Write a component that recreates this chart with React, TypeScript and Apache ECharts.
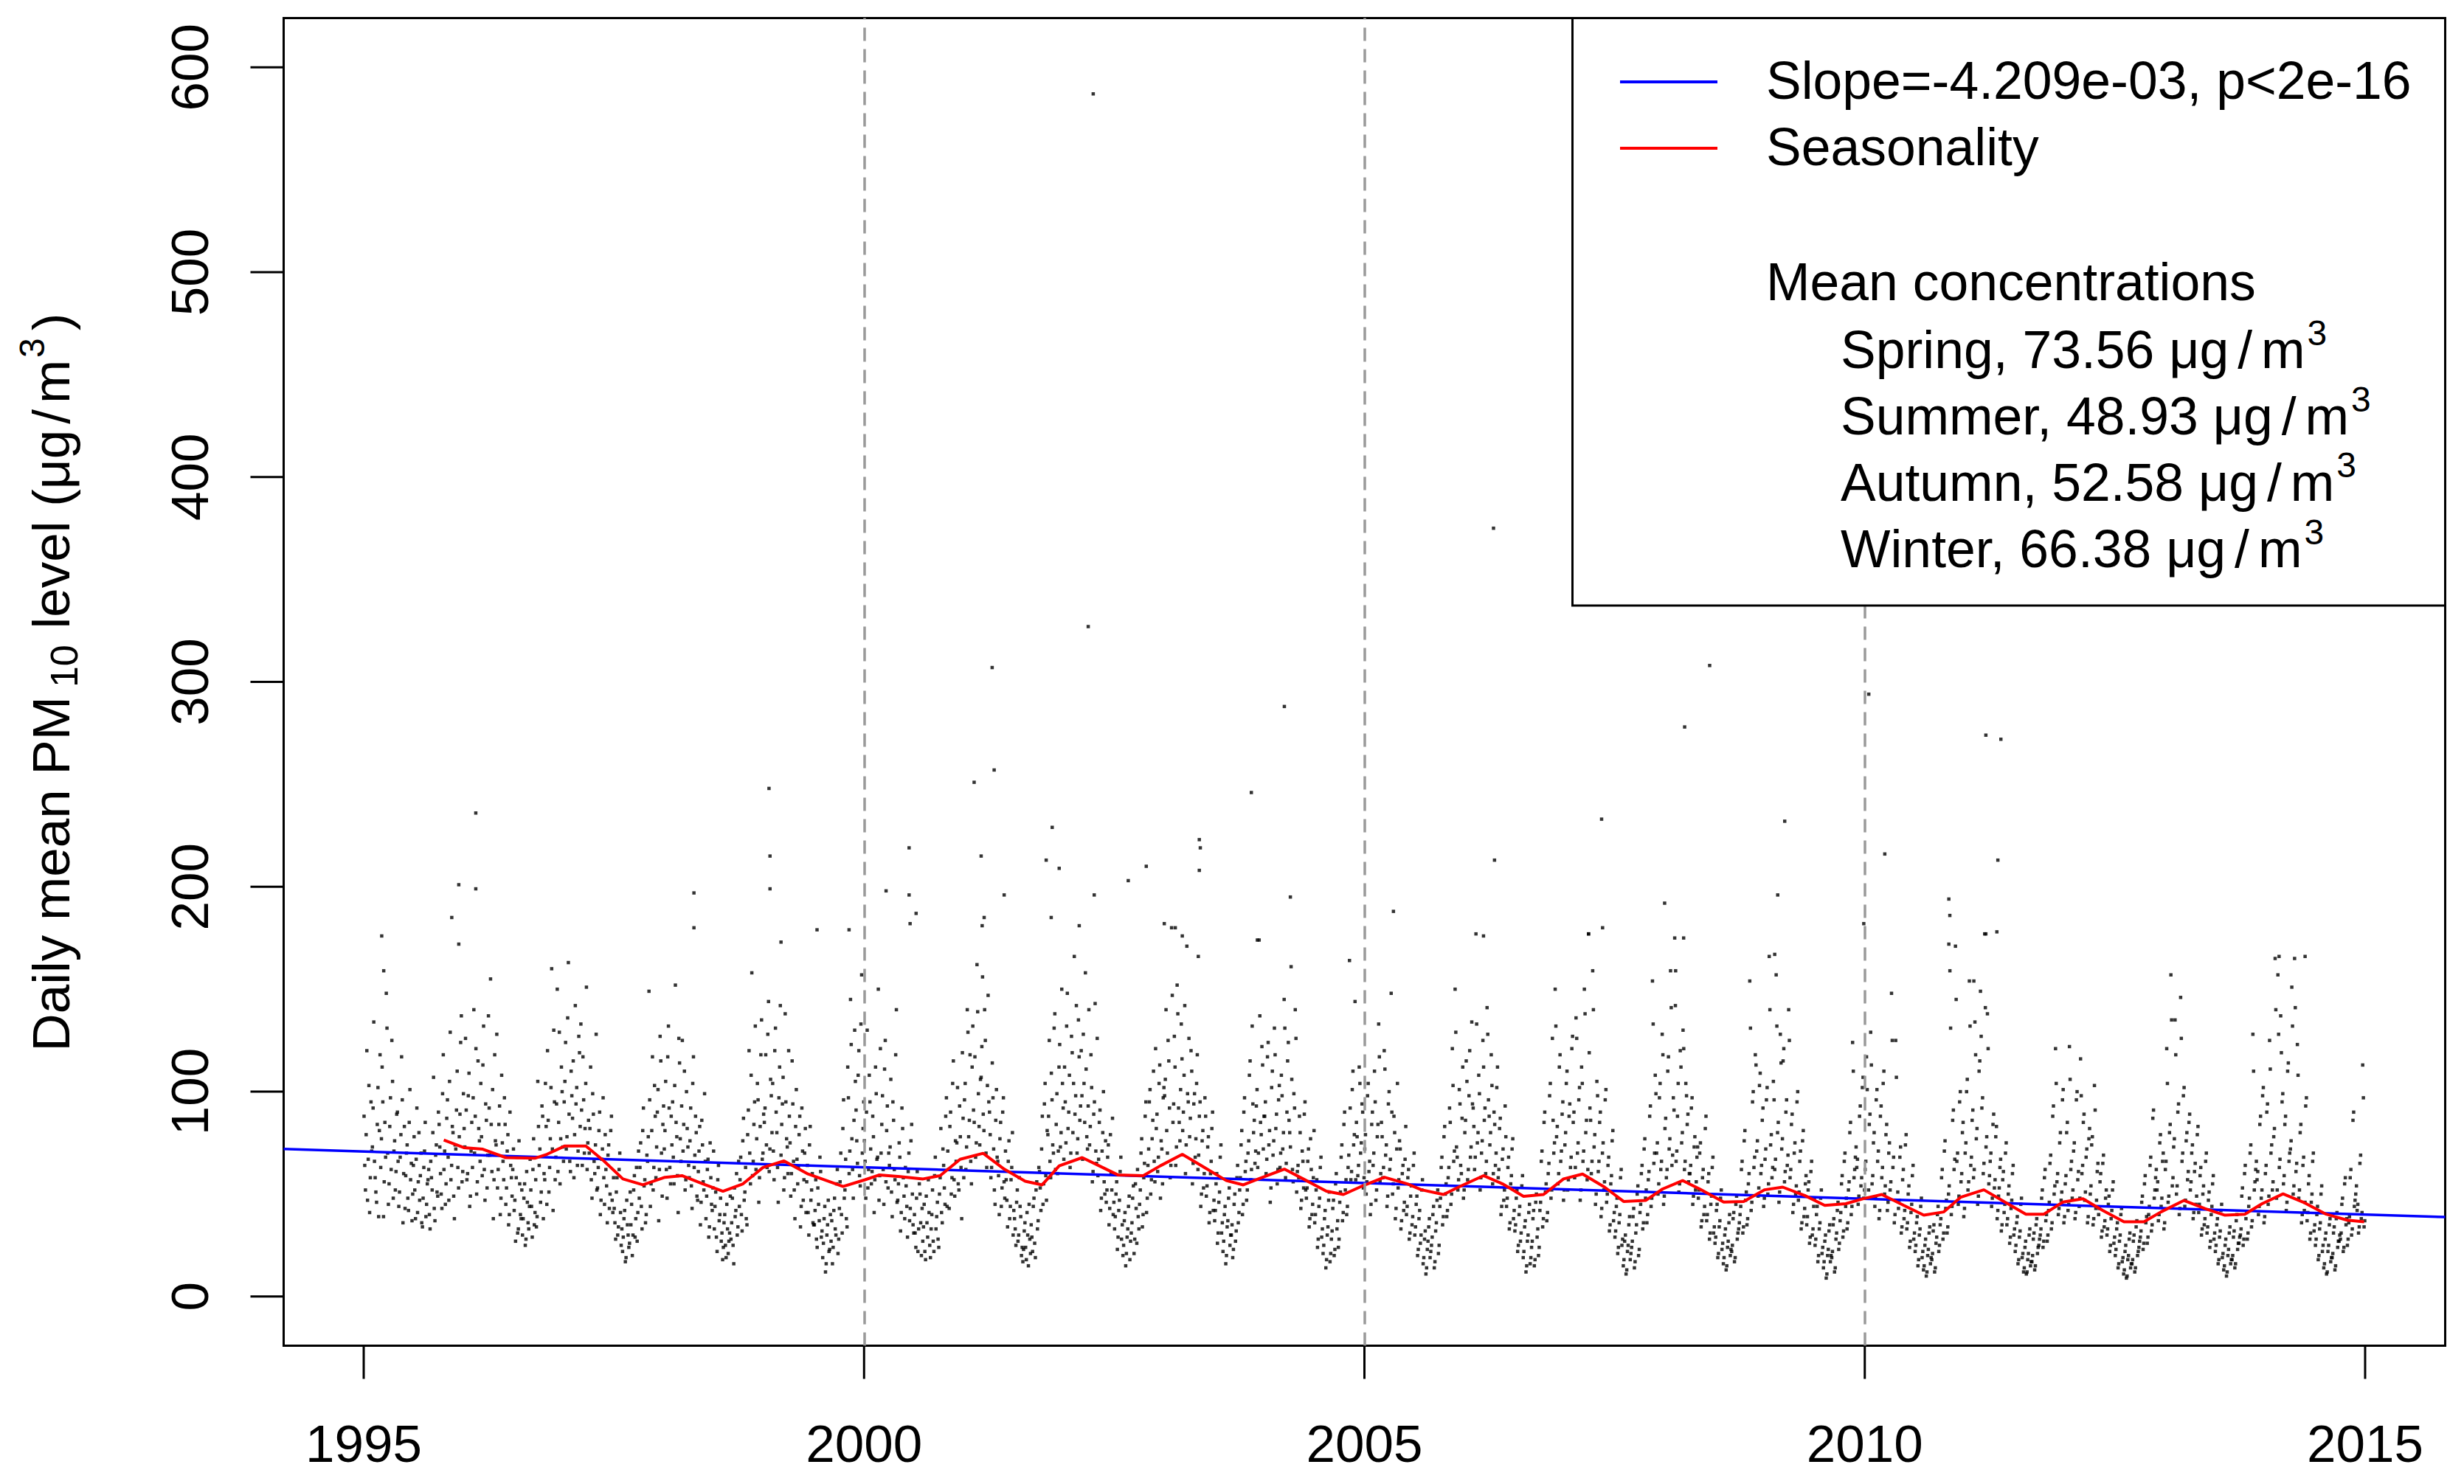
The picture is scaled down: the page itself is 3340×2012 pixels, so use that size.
import React, { useEffect, useRef } from "react";
import * as echarts from "echarts";

const FONT = '"Liberation Sans", Arial, Helvetica, sans-serif';

// ---- axes ----
const X_MIN = 1994.2;
const X_MAX = 2015.8;
const Y_MIN = -24;
const Y_MAX = 624;
const X_TICKS = [1995, 2000, 2005, 2010, 2015];
const Y_TICKS = [0, 100, 200, 300, 400, 500, 600];
const DASHED_YEARS = [2000, 2005, 2010];

// ---- trend (linear fit) ----
const TREND_X = [1994.2, 2015.8];
const TREND_Y = [72.0, 38.8];

// ---- seasonality curve ----
const SEASON_X = [
  1995.8, 1996.0, 1996.19, 1996.42, 1996.71, 1996.83, 1997.01, 1997.22, 1997.4, 1997.59, 1997.79,
  1998.01, 1998.18, 1998.39, 1998.59, 1998.79, 1998.99, 1999.2, 1999.44, 1999.79, 2000.01,
  2000.15, 2000.36, 2000.59, 2000.76, 2000.96, 2001.19, 2001.4, 2001.61, 2001.78, 2001.95,
  2002.18, 2002.35, 2002.54, 2002.79, 2002.96, 2003.18, 2003.4, 2003.62, 2003.79, 2003.94,
  2004.2, 2004.42, 2004.62, 2004.79, 2004.99, 2005.2, 2005.43, 2005.57, 2005.79, 2005.94,
  2006.19, 2006.38, 2006.59, 2006.79, 2006.99, 2007.18, 2007.4, 2007.59, 2007.81, 2007.98,
  2008.18, 2008.35, 2008.59, 2008.79, 2009.0, 2009.18, 2009.4, 2009.6, 2009.81, 2009.98,
  2010.17, 2010.39, 2010.59, 2010.79, 2010.96, 2011.19, 2011.4, 2011.61, 2011.79, 2011.98,
  2012.18, 2012.38, 2012.59, 2012.79, 2012.96, 2013.19, 2013.4, 2013.6, 2013.8, 2013.97,
  2014.18, 2014.38, 2014.61, 2014.82, 2014.99,
];
const SEASON_Y = [
  76.4, 72.7, 71.9, 67.8, 67.5, 69.4, 73.5, 73.5, 66.2, 57.4, 54.5,
  58.2, 59.0, 55.0, 51.4, 55.0, 63.0, 66.2, 59.8, 53.7, 57.0,
  59.3, 58.5, 57.4, 59.0, 67.0, 69.9, 62.2, 56.3, 54.5, 63.8,
  67.8, 63.8, 59.3, 59.0, 63.8, 69.4, 63.0, 56.6, 54.5, 57.4,
  62.2, 56.6, 51.4, 49.8, 54.2, 58.2, 55.0, 52.1, 49.8, 53.4,
  59.0, 55.0, 48.9, 49.8, 57.4, 59.8, 53.4, 46.4, 46.9, 52.5,
  56.6, 52.5, 46.1, 46.4, 52.1, 53.4, 49.3, 44.5, 45.3, 47.7,
  49.8, 44.5, 39.7, 41.3, 48.5, 52.1, 46.1, 40.2, 40.2, 46.1,
  47.7, 42.0, 36.5, 36.5, 41.3, 46.9, 42.9, 39.7, 40.2, 45.3,
  50.1, 46.1, 40.2, 37.3, 36.5,
];

// ---- daily means: high values read individually (date as decimal year) ----
const OUTLIER_T = [
  1995.18, 1995.2, 1995.88, 1995.95, 1995.95, 1996.12, 1996.12, 1998.3, 1998.3, 1999.05, 1999.06, 1999.06, 1999.17,
  1999.53, 1999.85, 2000.22, 2000.45, 2000.45, 2000.52, 2000.46, 2001.1, 2001.17, 2001.2, 2001.18, 2001.28, 2001.3,
  2001.4, 2001.82, 2001.88, 2001.95, 2001.87, 2002.15, 2002.24, 2002.29, 2002.3, 2002.64, 2002.82, 2003.0, 2003.11,
  2003.18, 2003.35, 2003.36, 2003.35, 2003.34, 2003.87, 2003.93, 2004.2, 2004.26, 2005.29, 2006.19, 2006.29, 2006.3,
  2007.24, 2007.37, 2007.38, 2008.0, 2008.11, 2008.19, 2008.2, 2008.45, 2009.1, 2009.13, 2009.2, 2009.99, 2010.04,
  2010.2, 2010.84, 2010.85, 2010.84, 2011.09, 2011.21, 2011.36, 2011.21, 2011.32, 2011.33, 2014.14, 2014.4,
];
const OUTLIER_V = [
  176, 159, 185, 201, 172, 236, 199, 197, 180, 248, 215, 199, 173,
  179, 179, 198, 219, 196, 187, 182, 251, 215, 185, 181, 307, 257,
  196, 213, 229, 209, 185, 181, 327, 587, 196, 203, 210, 182, 180,
  176, 223, 219, 208, 166, 246, 174, 288, 195, 188, 176, 375, 213,
  177, 233, 180, 192, 159, 175, 278, 308, 167, 196, 232, 182, 294,
  216, 194, 186, 172, 154, 274, 272, 177, 178, 213, 166, 166,
];

// ---- daily means: sampled through each year (6 per month, Jan..Dec), first pass ----
const pm1995 = [88,52,120,67,41,95, 73,134,58,46,102,81, 63,112,39,85,148,70, 55,97,125,48,76,61, 90,44,68,117,36,83, 59,74,42,101,65,50, 78,38,92,56,47,70, 34,63,85,45,57,40, 66,52,107,37,74,49, 84,60,43,118,71,55, 96,47,129,64,80,38, 72,110,53,89,137,61];
const pm1996 = [82,126,57,98,44,71, 63,140,88,50,115,76, 104,59,132,47,86,69, 92,155,61,38,118,74, 53,84,40,108,66,97, 45,71,35,90,58,62, 42,27,68,33,55,38, 30,48,25,61,36,44, 52,29,77,41,34,105, 64,46,93,38,57,83, 120,51,77,160,42,95, 68,150,85,55,112,73];
const pm1997 = [95,124,78,163,66,110, 87,58,142,102,71,119, 133,64,96,82,151,75, 70,112,48,89,60,128, 53,81,40,67,97,45, 62,36,74,50,88,41, 43,28,58,34,70,25, 22,38,17,47,30,26, 35,20,52,29,63,41, 48,75,33,92,57,40, 66,149,44,81,52,103, 58,90,37,127,70,84];
const pm1998 = [72,105,48,132,63,88, 95,55,152,78,41,114, 66,125,84,52,100,73, 58,92,43,117,69,80, 47,71,35,86,56,99, 38,62,29,75,45,53, 33,51,22,64,40,27, 18,36,25,45,21,31, 28,48,16,39,60,34, 44,68,32,87,51,38, 79,120,55,158,66,95, 62,104,46,83,135,70];
const pm1999 = [85,118,63,144,72,98, 104,57,131,80,46,112, 69,94,52,138,77,60, 88,49,115,66,38,101, 55,79,34,92,47,70, 41,64,30,83,52,36, 35,57,24,45,68,29, 19,38,12,30,47,23, 27,16,42,33,55,21, 43,70,31,96,52,38, 112,60,145,77,48,130, 91,65,120,54,157,82];
const pm2000 = [76,48,130,62,95,55, 88,41,112,67,150,59, 70,98,45,125,81,53, 64,106,39,86,57,140, 47,75,32,92,58,38, 54,29,70,43,84,35, 40,24,61,33,50,20, 27,45,18,36,57,25, 33,52,22,68,39,28, 50,82,36,64,45,97, 71,43,90,58,115,49, 66,102,52,78,38,87];
const pm2001 = [96,62,140,78,118,55, 132,85,68,162,99,74, 107,156,81,125,63,147, 90,58,114,72,45,101, 66,40,85,53,97,48, 57,34,76,44,63,30, 38,25,52,30,44,20, 17,32,24,41,15,28, 35,22,48,19,56,37, 61,42,88,55,104,47, 79,125,58,96,70,138, 84,60,112,73,150,92];
const pm2002 = [112,75,148,90,63,127, 80,166,98,70,135,86, 120,67,104,158,78,93, 74,118,56,89,143,65, 59,85,42,71,100,50, 46,68,35,79,52,40, 33,50,23,42,61,28, 20,37,15,29,44,18, 31,48,21,55,26,39, 45,70,34,58,88,41, 64,95,50,77,110,56, 82,61,104,48,72,97];
const pm2003 = [98,140,70,115,58,180, 85,127,64,152,92,76, 133,81,108,60,171,95, 78,120,55,94,68,104, 62,88,44,76,53,97, 49,73,36,60,82,42, 37,55,26,46,68,31, 22,40,16,34,48,25, 30,19,45,27,58,36, 52,74,40,90,61,47, 70,108,57,132,80,65, 93,63,174,85,122,72];
const pm2004 = [88,60,117,74,46,102, 69,131,82,55,96,63, 108,72,145,58,90,124, 80,161,62,99,140,51, 64,88,43,71,53,95, 48,66,34,77,40,58, 36,52,24,44,63,29, 21,38,14,30,47,17, 28,43,20,55,33,24, 46,68,37,84,52,40, 63,164,57,101,74,144, 85,59,112,70,94,53];
const pm2005 = [72,50,98,61,40,84, 64,110,47,78,133,56, 85,58,120,69,44,94, 62,148,50,88,38,72, 53,76,33,60,42,67, 40,58,28,49,35,64, 30,45,20,38,26,52, 16,28,11,23,34,19, 25,40,14,32,47,21, 44,63,35,78,50,39, 58,92,45,121,66,150, 73,52,101,64,87,48];
const pm2006 = [80,115,57,98,68,134, 92,62,177,75,108,52, 70,125,86,60,141,96, 74,118,55,90,64,102, 58,82,40,67,47,93, 44,63,33,55,72,38, 32,48,22,40,27,54, 19,34,12,27,41,16, 24,38,15,46,29,20, 42,66,34,85,51,37, 60,98,48,126,70,150, 78,55,112,66,89,47];
const pm2007 = [74,104,52,88,63,121, 85,58,136,70,96,47, 112,66,150,80,57,177, 92,60,159,73,45,105, 61,85,39,70,52,96, 46,64,32,55,76,37, 29,44,21,36,58,25, 15,27,11,22,35,18, 24,39,14,31,50,20, 41,60,33,72,48,36, 57,88,44,154,65,108, 70,50,97,62,128,45];
const pm2008 = [82,58,110,72,159,64, 97,175,66,88,51,120, 75,130,62,104,84,56, 60,92,45,73,52,68, 48,70,34,58,40,82, 37,56,28,45,63,31, 26,42,19,34,48,23, 16,30,13,24,36,20, 22,38,17,45,28,33, 40,62,31,76,47,35, 55,154,42,95,63,118, 71,49,103,60,86,44];
const pm2009 = [67,96,50,166,74,58, 105,62,157,80,46,128, 72,115,56,90,64,140, 58,84,41,70,50,95, 47,66,33,76,39,55, 35,52,26,61,30,44, 25,40,17,33,48,21, 14,27,9,20,32,17, 19,35,12,28,42,23, 37,55,29,66,44,33, 52,80,40,124,58,68, 63,45,88,54,102,48];
const pm2010 = [62,117,48,84,129,55, 75,44,96,66,38,88, 58,104,50,79,42,70, 52,148,63,36,125,47, 43,68,31,57,38,74, 33,50,24,41,59,28, 22,36,15,30,44,19, 13,25,10,20,31,16, 18,32,12,26,40,22, 35,58,28,71,43,31, 50,159,40,86,62,171, 66,45,95,56,80,39];
const pm2011 = [70,100,52,154,64,86, 58,134,77,45,110,149, 92,60,177,73,138,55, 66,44,84,53,78,38, 49,63,32,57,41,70, 35,50,26,43,60,30, 22,36,16,29,45,19, 12,24,11,18,30,15, 17,28,13,35,21,25, 30,48,24,58,37,27, 42,65,33,88,50,121, 56,40,75,47,96,36];
const pm2012 = [55,80,42,122,62,48, 71,38,96,57,44,116, 60,85,47,68,36,77, 50,74,35,103,43,61, 40,56,29,65,34,48, 30,45,22,38,52,26, 20,33,14,27,40,17, 11,22,9,18,28,14, 16,27,12,34,20,24, 29,46,23,55,36,26, 40,64,32,87,48,58, 52,37,75,44,66,33];
const pm2013 = [62,121,46,80,157,54, 73,135,50,90,40,146, 66,98,44,76,57,85, 52,70,38,61,45,79, 41,59,30,50,35,66, 31,47,24,40,55,28, 22,35,16,29,42,19, 13,25,10,20,31,16, 18,29,14,37,23,26, 30,49,25,60,38,28, 44,70,34,128,52,62, 57,40,84,48,98,36];
const pm2014 = [60,90,45,125,70,52, 78,165,48,157,63,137, 95,55,84,42,110,66, 72,151,50,165,61,123, 48,80,36,64,42,93, 37,55,28,46,66,32, 25,40,18,33,50,22, 14,28,11,22,35,17, 19,31,13,38,24,27, 28,45,22,55,35,25, 36,58,30,86,44,50, 42,31,65,38,113,34];

// ---- daily means: second pass (days in between the first pass) ----
const pmB1995 = [64,79,47,103,58,71, 92,66,51,84,39,118, 77,95,56,68,131,45, 83,62,105,71,52,89, 66,51,79,96,60,43, 70,48,85,57,37,64, 52,67,41,80,59,36, 48,71,39,55,62,33, 58,80,43,69,51,90, 73,50,99,62,45,87, 68,105,57,83,49,74, 91,63,78,124,56,99];
const pmB1996 = [73,91,60,109,49,85, 97,70,121,56,82,66, 78,113,62,94,53,137, 69,84,101,57,76,128, 62,93,48,75,57,84, 53,79,40,64,49,72, 47,58,31,76,40,52, 38,55,28,46,33,67, 44,62,35,57,39,83, 72,51,88,60,104,45, 86,63,102,72,130,57, 94,61,129,77,100,66];
const pmB1997 = [105,72,136,89,61,98, 115,79,94,64,127,83, 91,117,70,104,62,86, 82,57,99,66,74,52, 63,90,47,72,58,79, 54,69,43,81,47,58, 36,51,30,62,41,33, 29,42,19,35,24,51, 45,30,59,38,27,71, 63,44,81,54,36,69, 78,96,55,117,63,88, 73,101,62,115,49,93];
const pmB1998 = [81,62,117,92,55,74, 68,103,85,59,126,77, 93,71,110,57,82,64, 76,54,104,63,88,49, 61,83,46,74,52,66, 49,67,34,58,42,71, 44,29,57,37,48,31, 24,40,19,33,27,49, 36,25,53,42,30,66, 57,40,76,47,63,35, 91,70,108,59,84,132, 77,96,58,118,67,89];
const pmB1999 = [92,74,128,61,106,80, 71,120,90,63,97,142, 84,107,58,95,73,120, 75,60,94,52,83,67, 63,88,44,71,57,82, 56,41,74,47,60,35, 42,28,53,37,61,32, 26,44,16,35,22,40, 37,24,48,30,62,28, 56,40,82,48,67,34, 97,71,123,62,86,105, 76,108,59,133,70,95];
const pmB2000 = [66,90,53,108,72,61, 78,57,99,68,47,121, 84,62,111,56,93,70, 73,51,95,62,118,46, 55,68,41,82,49,63, 44,61,37,76,50,31, 31,48,22,55,36,43, 34,22,49,29,41,19, 40,27,59,33,46,24, 58,41,72,53,88,44, 62,83,50,104,57,76, 75,55,93,63,119,58];
const pmB2001 = [104,73,129,86,66,112, 91,117,75,139,83,106, 122,89,140,70,103,95, 79,63,97,52,86,68, 59,77,44,90,56,71, 47,66,38,57,80,42, 33,46,27,58,39,24, 23,36,18,30,45,21, 29,44,26,52,33,63, 53,72,45,94,59,81, 88,66,109,74,131,62, 99,71,123,80,104,67];
const pmB2002 = [95,132,82,108,70,119, 104,89,142,77,117,93, 98,128,85,111,72,140, 83,102,61,95,71,126, 67,91,48,80,56,76, 52,74,43,60,87,46, 39,56,29,47,68,35, 25,41,21,33,49,27, 36,54,28,43,62,33, 52,77,40,65,95,48, 72,101,57,86,66,121, 89,68,113,76,55,102];
const pmB2003 = [106,81,125,92,64,147, 94,112,73,138,85,101, 116,90,142,74,99,126, 87,110,65,99,77,118, 69,95,50,81,60,88, 54,78,41,66,90,47, 42,60,31,51,74,36, 27,44,20,37,53,30, 35,23,50,32,64,41, 58,81,45,97,66,52, 76,115,62,94,86,71, 101,70,137,79,113,88];
const pmB2004 = [95,67,124,81,53,110, 76,118,89,62,103,70, 98,80,131,65,115,86, 73,106,56,92,126,61, 58,80,47,66,89,52, 53,72,38,62,45,81, 40,57,28,48,68,33, 25,42,18,34,51,21, 32,47,23,60,37,28, 51,74,41,90,57,44, 69,92,61,110,79,57, 78,64,104,75,90,58];
const pmB2005 = [79,56,104,66,45,90, 70,95,52,84,117,60, 78,63,111,74,49,100, 67,90,55,80,43,104, 57,72,37,64,46,83, 44,62,31,54,39,70, 34,49,23,42,30,57, 19,32,14,27,38,22, 29,44,17,36,52,25, 48,68,39,83,55,42, 63,85,50,103,71,129, 68,57,94,60,112,52];
const pmB2006 = [86,105,62,120,73,94, 83,68,133,80,99,58, 76,112,92,66,128,88, 80,103,60,84,70,112, 62,87,44,72,52,78, 48,68,36,59,77,42, 35,52,25,44,31,59, 22,37,15,30,45,19, 27,42,18,50,33,24, 46,71,38,90,55,41, 65,104,52,86,75,132, 83,60,118,71,95,52];
const pmB2007 = [80,110,57,94,68,127, 90,63,126,75,102,52, 104,71,138,86,62,119, 86,66,140,79,50,98, 66,90,43,75,56,101, 50,68,35,59,81,41, 32,48,24,40,62,28, 18,30,13,25,39,21, 27,43,17,35,54,23, 45,64,36,77,52,40, 61,93,48,133,70,99, 75,55,104,66,118,49];
const pmB2008 = [87,62,117,77,141,69, 91,142,71,104,55,112, 80,121,66,98,89,60, 64,97,49,78,56,73, 52,75,37,62,44,88, 40,60,31,49,68,34, 29,45,21,37,52,26, 19,33,15,27,40,23, 25,41,19,49,31,36, 44,66,34,81,51,38, 60,131,46,100,68,113, 76,53,109,64,92,48];
const pmB2009 = [72,102,55,140,79,63, 96,67,132,85,51,114, 77,121,61,96,69,125, 62,89,45,75,54,100, 51,71,36,81,43,59, 39,56,29,66,33,48, 28,44,20,36,52,24, 17,30,11,23,35,20, 22,38,14,31,46,26, 41,59,32,70,48,36, 56,85,44,110,62,73, 67,49,93,58,107,52];
const pmB2010 = [66,101,52,89,113,59, 80,48,101,71,42,93, 63,110,54,84,46,75, 56,125,68,40,107,51, 47,73,34,62,42,79, 36,54,27,45,64,31, 25,39,18,33,48,22, 15,28,12,23,34,19, 21,35,14,29,44,25, 38,62,31,76,47,34, 54,131,44,91,67,145, 70,49,100,60,85,43];
const pmB2011 = [75,106,56,132,68,91, 62,118,82,49,115,127, 97,65,141,78,121,59, 70,48,89,57,83,42, 53,67,35,61,45,75, 38,54,29,47,64,33, 25,39,18,32,48,21, 14,27,12,21,33,17, 20,31,15,38,24,28, 33,52,27,62,40,30, 46,69,36,93,54,104, 60,43,80,51,101,39];
const pmB2012 = [59,85,45,106,66,52, 75,41,100,61,48,98, 64,89,51,72,39,82, 54,78,38,91,47,65, 43,60,32,69,37,52, 33,49,25,42,56,29, 23,36,16,30,43,19, 13,25,10,20,31,16, 18,30,14,37,22,27, 32,49,26,59,39,29, 44,68,35,91,52,62, 56,40,79,48,70,36];
const pmB2013 = [66,104,49,84,135,58, 77,118,54,94,43,126, 70,102,47,80,61,89, 56,74,41,65,49,83, 45,63,33,54,38,70, 34,51,27,44,59,31, 25,38,18,32,45,21, 15,28,12,23,34,18, 20,32,16,40,26,29, 33,53,28,64,41,31, 48,74,37,110,56,66, 61,44,88,52,102,39];
const pmB2014 = [64,94,49,111,74,56, 82,140,52,128,67,119, 99,59,88,46,114,70, 76,132,54,141,65,108, 52,84,40,68,46,97, 41,59,31,50,70,35, 28,44,20,36,54,25, 16,31,12,25,38,19, 21,34,15,41,27,30, 31,48,24,58,38,28, 39,62,33,90,47,54, 45,34,69,41,97,37];

const YEARS = [1995, 1996, 1997, 1998, 1999, 2000, 2001, 2002, 2003, 2004, 2005, 2006, 2007, 2008, 2009, 2010, 2011, 2012, 2013, 2014];
const YEAR_VALUES = [pm1995, pm1996, pm1997, pm1998, pm1999, pm2000, pm2001, pm2002, pm2003, pm2004, pm2005, pm2006, pm2007, pm2008, pm2009, pm2010, pm2011, pm2012, pm2013, pm2014];
const YEAR_VALUES_B = [pmB1995, pmB1996, pmB1997, pmB1998, pmB1999, pmB2000, pmB2001, pmB2002, pmB2003, pmB2004, pmB2005, pmB2006, pmB2007, pmB2008, pmB2009, pmB2010, pmB2011, pmB2012, pmB2013, pmB2014];

// ---- legend texts ----
const LEGEND_SLOPE = "Slope=-4.209e-03, p<2e-16";
const LEGEND_SEASON = "Seasonality";
const LEGEND_MEAN_TITLE = "Mean concentrations";
const SEASON_NAMES = ["Spring", "Summer", "Autumn", "Winter"];
const SEASON_MEANS = ["73.56", "48.93", "52.58", "66.38"];

// ---- plot frame (pixels) ----
const PLOT_L = 384.5;
const PLOT_R = 3314.5;
const PLOT_T = 24.5;
const PLOT_B = 1824.5;
const TICK_LEN = 45;

type Piece = { t: string; size: number; dy: number; before: number };

function measure(text: string, size: number): number {
  const c = document.createElement("canvas");
  const ctx = c.getContext("2d");
  if (!ctx) return text.length * size * 0.55;
  ctx.font = `${size}px "Liberation Sans"`;
  return ctx.measureText(text).width;
}

function runElements(pieces: Piece[], x0: number, y0: number) {
  const els: any[] = [];
  let x = x0;
  pieces.forEach((p) => {
    x += p.before;
    els.push({
      type: "text",
      x,
      y: y0 + p.dy,
      z: 101,
      style: {
        text: p.t,
        fontSize: p.size,
        fontFamily: FONT,
        fill: "#000",
        align: "left",
        verticalAlign: "middle",
      },
    });
    x += measure(p.t, p.size);
  });
  return { els, width: x - x0 };
}

// linear mapping identical to the value axes of the grid
const xPx = (x: number) => PLOT_L + ((x - X_MIN) / (X_MAX - X_MIN)) * (PLOT_R - PLOT_L);
const yPx = (y: number) => PLOT_B - ((y - Y_MIN) / (Y_MAX - Y_MIN)) * (PLOT_B - PLOT_T);

function App() {
  const ref = useRef<HTMLDivElement>(null);

  useEffect(() => {
    document.body.style.margin = "0";
    if (!ref.current) return;
    const chart = echarts.init(ref.current, undefined, { renderer: "svg" });

    const scatter: number[][] = [];
    YEARS.forEach((yr, k) => {
      const a = YEAR_VALUES[k];
      a.forEach((v, i) => scatter.push([yr + (i + 0.25) / a.length, v]));
      const b = YEAR_VALUES_B[k];
      b.forEach((v, i) => scatter.push([yr + (i + 0.75) / b.length, v]));
    });
    OUTLIER_T.forEach((t, i) => scatter.push([t, OUTLIER_V[i]]));

    const trend = TREND_X.map((x, i) => [x, TREND_Y[i]]);
    const season = SEASON_X.map((x, i) => [x, SEASON_Y[i]]);

    // y-axis title (rotated)
    const titlePieces: Piece[] = [
      { t: "Daily mean PM", size: 71, dy: 0, before: 0 },
      { t: "10", size: 52, dy: 18, before: 12 },
      { t: " level (", size: 71, dy: 0, before: 2 },
      { t: "\u03bcg", size: 71, dy: 0, before: 0 },
      { t: "/", size: 71, dy: 0, before: 8 },
      { t: "m", size: 71, dy: 0, before: 8 },
      { t: "3", size: 48, dy: -26, before: 3 },
      { t: ")", size: 71, dy: 0, before: 10 },
    ];
    const tmp = runElements(titlePieces, 0, 0);
    const title = runElements(titlePieces, -tmp.width / 2, 0);

    // legend
    const LX = 2131.5;
    const LB = 821;
    const legendEls: any[] = [
      {
        type: "rect",
        z: 100,
        shape: { x: LX, y: PLOT_T, width: PLOT_R - LX, height: LB - PLOT_T },
        style: { fill: "#fff", stroke: "#000", lineWidth: 3 },
      },
      {
        type: "line",
        z: 101,
        shape: { x1: 2196, y1: 111, x2: 2328, y2: 111 },
        style: { stroke: "#0000ff", lineWidth: 4 },
      },
      {
        type: "line",
        z: 101,
        shape: { x1: 2196, y1: 201, x2: 2328, y2: 201 },
        style: { stroke: "#ff0000", lineWidth: 4 },
      },
    ];
    legendEls.push(...runElements([{ t: LEGEND_SLOPE, size: 71.5, dy: 0, before: 0 }], 2394, 109).els);
    legendEls.push(...runElements([{ t: LEGEND_SEASON, size: 71.5, dy: 0, before: 0 }], 2394, 199).els);
    legendEls.push(...runElements([{ t: LEGEND_MEAN_TITLE, size: 71.5, dy: 0, before: 0 }], 2394, 382).els);
    const rowY = [474, 564, 653.5, 744];
    SEASON_NAMES.forEach((name, i) => {
      const pieces: Piece[] = [
        { t: `${name}, ${SEASON_MEANS[i]} `, size: 71.5, dy: 0, before: 0 },
        { t: "\u03bcg", size: 71.5, dy: 0, before: 0 },
        { t: "/", size: 71.5, dy: 0, before: 12 },
        { t: "m", size: 71.5, dy: 0, before: 12 },
        { t: "3", size: 48, dy: -23, before: 3 },
      ];
      legendEls.push(...runElements(pieces, 2495, rowY[i]).els);
    });

    // tick marks (outside the frame, R style)
    const tickEls: any[] = [];
    X_TICKS.forEach((v) => {
      const x = xPx(v);
      tickEls.push({
        type: "rect",
        z: 102,
        shape: { x: x - 1.5, y: PLOT_B, width: 3, height: TICK_LEN },
        style: { fill: "#000" },
      });
    });
    Y_TICKS.forEach((v) => {
      const y = yPx(v);
      tickEls.push({
        type: "rect",
        z: 102,
        shape: { x: PLOT_L - TICK_LEN, y: y - 1.5, width: TICK_LEN, height: 3 },
        style: { fill: "#000" },
      });
    });

    const axisLineStyle = { show: true, onZero: false, lineStyle: { color: "#000", width: 3 } };

    const option: any = {
      animation: false,
      backgroundColor: "#ffffff",
      grid: {
        left: PLOT_L,
        right: 3340 - PLOT_R,
        top: PLOT_T,
        bottom: 2012 - PLOT_B,
        show: true,
        borderColor: "#000",
        borderWidth: 3,
        backgroundColor: "transparent",
        containLabel: false,
      },
      xAxis: {
        type: "value",
        min: X_MIN,
        max: X_MAX,
        splitLine: { show: false },
        axisLine: axisLineStyle,
        axisTick: { show: false },
        axisLabel: {
          customValues: X_TICKS,
          fontSize: 71,
          fontFamily: FONT,
          color: "#000",
          margin: 97,
          formatter: (v: number) => String(v),
        },
      },
      yAxis: {
        type: "value",
        min: Y_MIN,
        max: Y_MAX,
        splitLine: { show: false },
        axisLine: axisLineStyle,
        axisTick: { show: false },
        axisLabel: {
          customValues: Y_TICKS,
          rotate: 90,
          fontSize: 71,
          fontFamily: FONT,
          color: "#000",
          margin: 127,
          align: "center",
          verticalAlign: "middle",
          formatter: (v: number) => String(v),
        },
      },
      series: [
        {
          type: "scatter",
          data: scatter,
          symbol: "rect",
          symbolSize: 4.5,
          itemStyle: { color: "#000" },
          silent: true,
          z: 2,
          markLine: {
            silent: true,
            symbol: "none",
            label: { show: false },
            lineStyle: { color: "#9a9a9a", width: 3.5, type: [18, 11] },
            data: DASHED_YEARS.map((y) => ({ xAxis: y })),
          },
        },
        {
          type: "line",
          data: trend,
          showSymbol: false,
          symbol: "none",
          lineStyle: { color: "#0000ff", width: 3.5 },
          z: 3,
          silent: true,
        },
        {
          type: "line",
          data: season,
          showSymbol: false,
          symbol: "none",
          lineStyle: { color: "#ff0000", width: 4 },
          z: 4,
          silent: true,
        },
      ],
      graphic: [
        ...tickEls,
        {
          type: "group",
          x: 69,
          y: 925,
          rotation: Math.PI / 2,
          z: 101,
          children: title.els,
        },
        ...legendEls,
      ],
    };

    chart.setOption(option);
    return () => chart.dispose();
  }, []);

  return <div ref={ref} style={{ width: 3340, height: 2012 }} />;
}

export default App;
